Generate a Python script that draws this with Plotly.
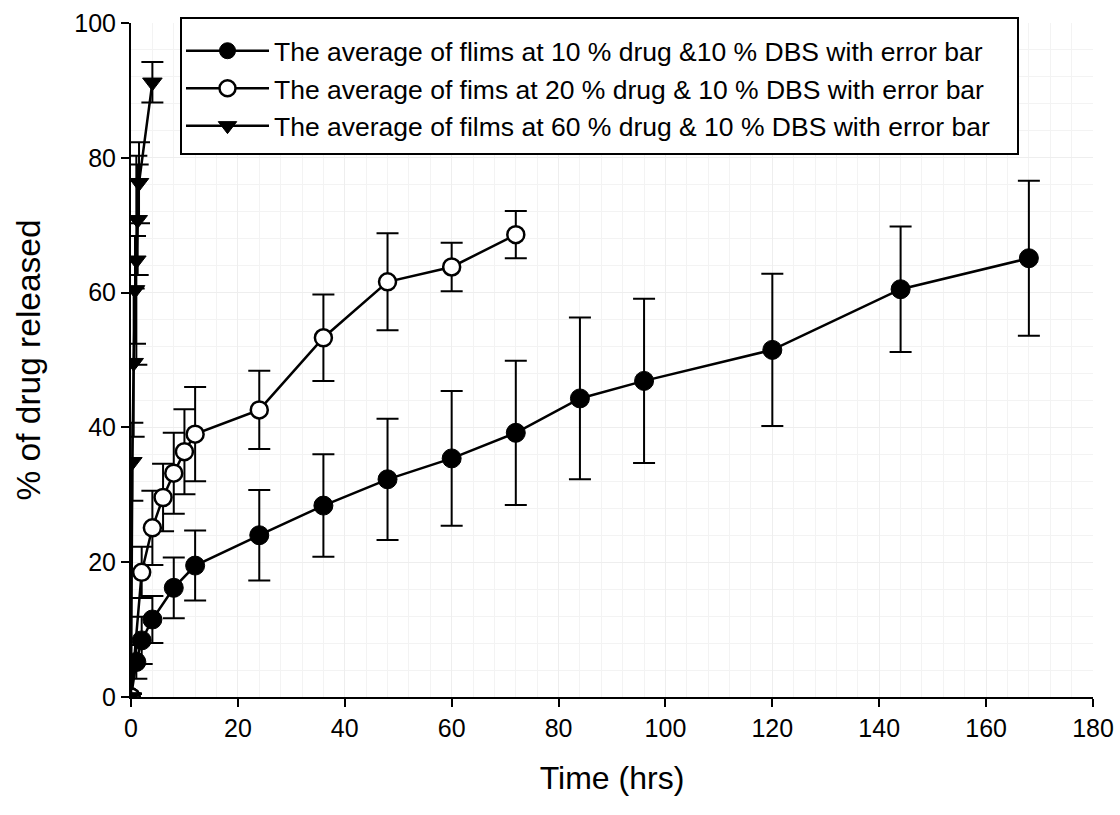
import plotly.graph_objects as go

# Series 1: 10 % drug & 10 % DBS (filled circles)
t1 = [0, 1, 2, 4, 8, 12, 24, 36, 48, 60, 72, 84, 96, 120, 144, 168]
y1 = [0, 5.2, 8.4, 11.5, 16.2, 19.5, 24.0, 28.4, 32.3, 35.4, 39.2, 44.3, 46.9, 51.5, 60.5, 65.1]
e1 = [0.5, 2.5, 3.5, 3.5, 4.5, 5.2, 6.7, 7.6, 9.0, 10.0, 10.7, 12.0, 12.2, 11.3, 9.3, 11.5]

# Series 2: 20 % drug & 10 % DBS (open circles)
t2 = [0, 2, 4, 6, 8, 10, 12, 24, 36, 48, 60, 72]
y2 = [0, 18.5, 25.1, 29.6, 33.2, 36.4, 39.0, 42.6, 53.3, 61.6, 63.8, 68.6]
e2 = [0.5, 3.8, 5.5, 5.0, 6.0, 6.3, 7.0, 5.8, 6.4, 7.2, 3.6, 3.5]

# Series 3: 60 % drug & 10 % DBS (filled down-triangles)
t3 = [0, 0.25, 0.5, 0.75, 1.0, 1.25, 1.5, 4.0]
y3 = [0, 34.9, 49.6, 60.4, 64.8, 70.8, 76.3, 91.2]
e3 = [0.5, 5.8, 11.0, 8.0, 15.5, 8.2, 6.0, 3.0]

names = [
    "The average of flims at 10 % drug &10 % DBS with error bar",
    "The average of fims at 20 % drug & 10 % DBS with error bar",
    "The average of films at 60 % drug & 10 % DBS with error bar",
]

x_ticks = [0, 20, 40, 60, 80, 100, 120, 140, 160, 180]
y_ticks = [0, 20, 40, 60, 80, 100]

fig = go.Figure()

def err(arr):
    return dict(type="data", array=arr, visible=True, color="black", thickness=2, width=11)

fig.add_trace(go.Scatter(
    x=t1, y=y1, name=names[0], mode="lines+markers",
    line=dict(color="black", width=2.5),
    marker=dict(symbol="circle", size=19, color="black", line=dict(color="black", width=1)),
    error_y=err(e1),
))
fig.add_trace(go.Scatter(
    x=t2, y=y2, name=names[1], mode="lines+markers",
    line=dict(color="black", width=2.5),
    marker=dict(symbol="circle", size=17, color="white", line=dict(color="black", width=2.5)),
    error_y=err(e2),
))
fig.add_trace(go.Scatter(
    x=t3, y=y3, name=names[2], mode="lines+markers",
    line=dict(color="black", width=2.5),
    marker=dict(symbol="triangle-down", size=17, color="black", line=dict(color="black", width=1)),
    error_y=err(e3),
))

# plot area: left 131, right 1093, top 23, bottom 697 (pixels)
PW = 1093 - 131
PH = 697 - 23

# legend frame (paper coordinates)
fig.add_shape(type="rect", xref="paper", yref="paper",
              x0=(181 - 131) / PW, x1=(1018 - 131) / PW,
              y0=1 - (154 - 23) / PH, y1=1 + (23 - 18) / PH,
              line=dict(color="black", width=2), fillcolor="white", layer="above")

fig.update_layout(
    width=1120, height=815,
    margin=dict(l=131, r=1120 - 1093, t=23, b=815 - 697),
    paper_bgcolor="white", plot_bgcolor="white",
    font=dict(family="Liberation Sans, Arial, sans-serif", color="black"),
    showlegend=True,
    legend=dict(
        x=(181 - 131) / PW, y=1 - (27 - 23) / PH, xanchor="left", yanchor="top",
        bgcolor="rgba(0,0,0,0)", borderwidth=0,
        font=dict(size=26.5, color="black"),
        itemwidth=83, tracegroupgap=0,
    ),
    xaxis=dict(
        range=[0, 180], tickvals=x_ticks, ticktext=[str(v) for v in x_ticks],
        showline=True, linecolor="black", linewidth=2,
        ticks="outside", ticklen=8, tickwidth=2, tickcolor="black",
        tickfont=dict(size=25), zeroline=False, automargin=False,
        ticklabeloverflow="allow",
        showgrid=True, gridcolor="#eeeeee", gridwidth=1,
        minor=dict(dtick=4, showgrid=True, gridcolor="#f3f3f3", gridwidth=1),
        title=dict(text="Time (hrs)", font=dict(size=32), standoff=26),
    ),
    yaxis=dict(
        range=[0, 100], tickvals=y_ticks, ticktext=[str(v) for v in y_ticks],
        showline=True, linecolor="black", linewidth=2,
        ticks="outside", ticklen=8, tickwidth=2, tickcolor="black",
        tickfont=dict(size=25), zeroline=False, automargin=False,
        showgrid=True, gridcolor="#eeeeee", gridwidth=1,
        minor=dict(dtick=4, showgrid=True, gridcolor="#f3f3f3", gridwidth=1),
        title=dict(text="% of drug released", font=dict(size=33.5), standoff=24),
    ),
)

fig.write_html("out.html")
